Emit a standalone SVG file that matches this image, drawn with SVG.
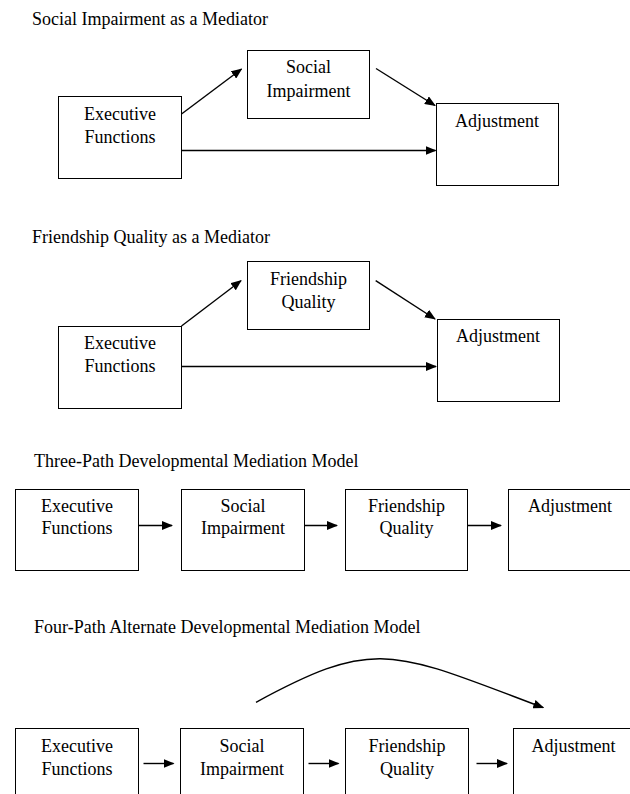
<svg xmlns="http://www.w3.org/2000/svg" width="630" height="794" viewBox="0 0 630 794">
<style>
text{font-family:"Liberation Serif","Times New Roman",serif;font-size:18px;fill:#000}
.t{text-anchor:start}
.c{text-anchor:middle}
.box{fill:#fff;stroke:#000;stroke-width:1}
.ln{fill:none;stroke:#000;stroke-width:1.4}
</style>
<defs>
<marker id="ah" markerUnits="userSpaceOnUse" markerWidth="11" markerHeight="9" refX="10" refY="4.5" orient="auto" viewBox="0 0 11 9">
<path d="M0,0 L11,4.5 L0,9 z" fill="#000"/>
</marker>
</defs>
<rect width="630" height="794" fill="#fff"/>

<g id="titles">
<text class="t" x="32" y="25">Social Impairment as a Mediator</text>
<text class="t" x="32" y="243">Friendship Quality as a Mediator</text>
<text class="t" x="34" y="467">Three-Path Developmental Mediation Model</text>
<text class="t" x="34" y="633">Four-Path Alternate Developmental Mediation Model</text>
</g>

<!-- Section 1 -->
<g id="s1-ef"><rect class="box" x="58.5" y="96.5" width="123" height="82"/><text class="c" x="120" y="120">Executive</text><text class="c" x="120" y="143">Functions</text></g>
<g id="s1-si"><rect class="box" x="247.5" y="50.5" width="122" height="68"/><text class="c" x="308.5" y="73">Social</text><text class="c" x="308.5" y="96.5">Impairment</text></g>
<g id="s1-adj"><rect class="box" x="436.5" y="103.5" width="122" height="82"/><text class="c" x="497" y="127">Adjustment</text></g>

<!-- Section 2 -->
<g id="s2-ef"><rect class="box" x="58.5" y="326.5" width="123" height="82"/><text class="c" x="120" y="348.5">Executive</text><text class="c" x="120" y="371.5">Functions</text></g>
<g id="s2-fq"><rect class="box" x="247.5" y="261.5" width="122" height="68"/><text class="c" x="308.5" y="285">Friendship</text><text class="c" x="308.5" y="308">Quality</text></g>
<g id="s2-adj"><rect class="box" x="437.5" y="319.5" width="122" height="82"/><text class="c" x="498" y="342">Adjustment</text></g>

<!-- Section 3 -->
<g id="s3-ef"><rect class="box" x="15.5" y="489.5" width="123" height="81"/><text class="c" x="77" y="512">Executive</text><text class="c" x="77" y="533.5">Functions</text></g>
<g id="s3-si"><rect class="box" x="181.5" y="489.5" width="123" height="81"/><text class="c" x="243" y="512">Social</text><text class="c" x="243" y="533.5">Impairment</text></g>
<g id="s3-fq"><rect class="box" x="345.5" y="489.5" width="122" height="81"/><text class="c" x="406.5" y="512">Friendship</text><text class="c" x="406.5" y="533.5">Quality</text></g>
<g id="s3-adj"><rect class="box" x="508.5" y="489.5" width="130" height="81"/><text class="c" x="570" y="512">Adjustment</text></g>

<!-- Section 4 -->
<g id="s4-ef"><rect class="box" x="15.5" y="728.5" width="123" height="90"/><text class="c" x="77" y="752">Executive</text><text class="c" x="77" y="775">Functions</text></g>
<g id="s4-si"><rect class="box" x="180.5" y="728.5" width="123" height="90"/><text class="c" x="242" y="752">Social</text><text class="c" x="242" y="775">Impairment</text></g>
<g id="s4-fq"><rect class="box" x="345.5" y="728.5" width="123" height="90"/><text class="c" x="407" y="752">Friendship</text><text class="c" x="407" y="775">Quality</text></g>
<g id="s4-adj"><rect class="box" x="513.5" y="728.5" width="130" height="90"/><text class="c" x="573.5" y="752">Adjustment</text></g>

<g id="connectors">
<line class="ln" x1="181.5" y1="114" x2="241.5" y2="69" marker-end="url(#ah)"/>
<line class="ln" x1="376" y1="68.5" x2="435" y2="105.5" marker-end="url(#ah)"/>
<line class="ln" x1="181.5" y1="150.5" x2="435.5" y2="150.5" marker-end="url(#ah)"/>

<line class="ln" x1="181.5" y1="326" x2="241" y2="280.7" marker-end="url(#ah)"/>
<line class="ln" x1="375.7" y1="280.7" x2="435" y2="319" marker-end="url(#ah)"/>
<line class="ln" x1="181.5" y1="366.5" x2="436" y2="366.5" marker-end="url(#ah)"/>

<line class="ln" x1="138.5" y1="525.5" x2="172" y2="525.5" marker-end="url(#ah)"/>
<line class="ln" x1="304.5" y1="525.5" x2="337" y2="525.5" marker-end="url(#ah)"/>
<line class="ln" x1="467.5" y1="525.5" x2="501" y2="525.5" marker-end="url(#ah)"/>

<line class="ln" x1="143.5" y1="763.5" x2="173.5" y2="763.5" marker-end="url(#ah)"/>
<line class="ln" x1="308.5" y1="763.5" x2="338.5" y2="763.5" marker-end="url(#ah)"/>
<line class="ln" x1="476.5" y1="763.5" x2="507" y2="763.5" marker-end="url(#ah)"/>

<path class="ln" d="M256,702.3 C376.7,636.8 391.6,650.5 543.3,707.7" marker-end="url(#ah)"/>
</g>
</svg>
